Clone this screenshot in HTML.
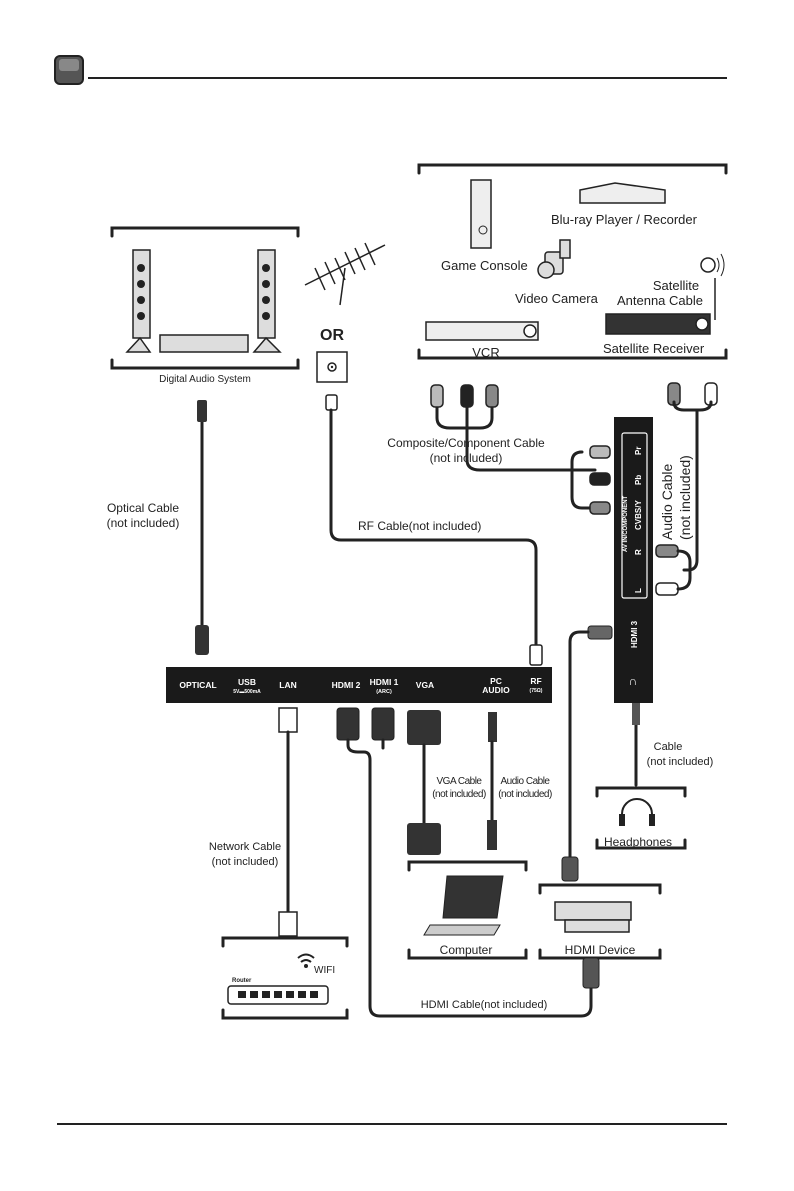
<!DOCTYPE html>
<html><head><meta charset="utf-8"><style>
html,body{margin:0;padding:0;background:#fff}
svg{display:block}
text{font-family:"Liberation Sans",Arial,sans-serif;fill:#222}
.c{fill:none;stroke:#222;stroke-width:3;stroke-linejoin:round;stroke-linecap:round}
.b{fill:none;stroke:#222;stroke-width:3;stroke-linecap:round}
.w text, text.w{fill:#fff;font-weight:bold}
</style></head><body>
<svg width="794" height="1191" viewBox="0 0 794 1191" xmlns="http://www.w3.org/2000/svg">
<!-- header -->
<rect x="55" y="56" width="28" height="28" rx="5" fill="#555" stroke="#222" stroke-width="2"/>
<rect x="59" y="59" width="20" height="12" rx="3" fill="#888"/>
<line x1="88" y1="78" x2="727" y2="78" stroke="#222" stroke-width="2"/>
<line x1="57" y1="1124" x2="727" y2="1124" stroke="#222" stroke-width="2"/>

<!-- bracket boxes -->
<path class="b" d="M112 236 V228 H298 V236 M112 360 V368 H298 V360"/>
<path class="b" d="M419 173 V165 H726 V173 M419 350 V358 H726 V350"/>
<path class="b" d="M597 796 V788 H685 V796 M597 840 V848 H685 V840"/>
<path class="b" d="M409 870 V862 H526 V870 M409 950 V958 H526 V950"/>
<path class="b" d="M540 893 V885 H660 V893 M540 950 V958 H660 V950"/>
<path class="b" d="M223 946 V938 H347 V946 M223 1010 V1018 H347 V1010"/>

<!-- digital audio system -->
<g fill="#ddd" stroke="#222" stroke-width="1.5">
<rect x="133" y="250" width="17" height="88"/><rect x="258" y="250" width="17" height="88"/>
<path d="M127 352 L140 338 L150 352 Z"/><path d="M254 352 L266 338 L280 352 Z"/>
<rect x="160" y="335" width="88" height="17"/>
</g>
<g fill="#222"><circle cx="141" cy="268" r="4"/><circle cx="141" cy="284" r="4"/><circle cx="141" cy="300" r="4"/><circle cx="141" cy="316" r="4"/>
<circle cx="266" cy="268" r="4"/><circle cx="266" cy="284" r="4"/><circle cx="266" cy="300" r="4"/><circle cx="266" cy="316" r="4"/></g>
<text x="205" y="382" font-size="10" text-anchor="middle">Digital Audio System</text>

<!-- antenna -->
<g stroke="#222" stroke-width="1.5">
<line x1="305" y1="285" x2="385" y2="245"/>
<line x1="315" y1="268" x2="325" y2="290"/><line x1="325" y1="262" x2="335" y2="284"/><line x1="335" y1="258" x2="345" y2="280"/><line x1="345" y1="252" x2="355" y2="274"/><line x1="355" y1="248" x2="365" y2="270"/><line x1="365" y1="243" x2="375" y2="265"/>
<line x1="345" y1="268" x2="340" y2="305"/>
</g>
<text x="332" y="340" font-size="16" font-weight="bold" text-anchor="middle">OR</text>
<rect x="317" y="352" width="30" height="30" fill="#fff" stroke="#222" stroke-width="1.5"/>
<circle cx="332" cy="367" r="4" fill="none" stroke="#222" stroke-width="1.5"/><circle cx="332" cy="367" r="1.2" fill="#222"/>

<!-- top right devices -->
<g fill="#eee" stroke="#222" stroke-width="1.5">
<rect x="471" y="180" width="20" height="68"/>
<path d="M580 190 L615 183 L665 190 V203 H580 Z"/>
<rect x="426" y="322" width="112" height="18"/>
<rect x="606" y="314" width="104" height="20" fill="#333"/>
</g>
<circle cx="483" cy="230" r="4" fill="none" stroke="#222"/>
<circle cx="530" cy="331" r="6" fill="#fff" stroke="#222" stroke-width="1.5"/>
<circle cx="702" cy="324" r="6" fill="#fff" stroke="#222" stroke-width="1.5"/>
<g fill="#ddd" stroke="#222" stroke-width="1.5"><rect x="545" y="252" width="18" height="22" rx="3"/><circle cx="546" cy="270" r="8"/><rect x="560" y="240" width="10" height="18"/></g>
<circle cx="708" cy="265" r="7" fill="none" stroke="#222" stroke-width="1.5"/>
<path d="M717 258 q4 7 0 14 M721 254 q6 11 0 22" fill="none" stroke="#222"/>
<path d="M715 320 V278" stroke="#222" stroke-width="1.5"/>
<text x="551" y="224" font-size="13">Blu-ray Player / Recorder</text>
<text x="441" y="270" font-size="13">Game Console</text>
<text x="515" y="303" font-size="13">Video Camera</text>
<text x="676" y="290" font-size="13" text-anchor="middle">Satellite</text>
<text x="660" y="305" font-size="13" text-anchor="middle">Antenna Cable</text>
<text x="603" y="353" font-size="13">Satellite Receiver</text>
<text x="486" y="357" font-size="13" text-anchor="middle">VCR</text>

<!-- composite cables -->
<path class="c" d="M437 405 V418 Q437 428 450 428 H467 M467 405 V460 Q467 470 480 470 H560"/>
<path class="c" d="M492 405 V418 Q492 428 480 428 H467"/>
<path class="c" d="M580 452 H582 Q572 452 572 462 V497 Q572 508 582 508 H590 M560 470 H595"/>
<g stroke="#222" stroke-width="1.5">
<rect x="431" y="385" width="12" height="22" rx="4" fill="#bbb"/>
<rect x="461" y="385" width="12" height="22" rx="4" fill="#222"/>
<rect x="486" y="385" width="12" height="22" rx="4" fill="#888"/>
<rect x="668" y="383" width="12" height="22" rx="4" fill="#888"/>
<rect x="705" y="383" width="12" height="22" rx="4" fill="#fff"/>
<rect x="590" y="446" width="20" height="12" rx="4" fill="#bbb"/>
<rect x="590" y="473" width="20" height="12" rx="4" fill="#222"/>
<rect x="590" y="502" width="20" height="12" rx="4" fill="#888"/>
<rect x="656" y="545" width="22" height="12" rx="4" fill="#888"/>
<rect x="656" y="583" width="22" height="12" rx="4" fill="#fff"/>
</g>
<path class="c" d="M674 405 V402 Q674 410 684 410 H700 Q711 410 711 402 V405 M697 410 V560 Q697 570 688 570 H684 M678 551 Q690 551 690 562 V578 Q690 589 678 589"/>
<text x="466" y="447" font-size="12" text-anchor="middle">Composite/Component Cable</text>
<text x="466" y="462" font-size="12" text-anchor="middle">(not included)</text>
<text transform="translate(672,540) rotate(-90)" font-size="14">Audio Cable</text>
<text transform="translate(690,540) rotate(-90)" font-size="14">(not included)</text>

<!-- side panel -->
<rect x="614" y="417" width="39" height="286" fill="#1a1a1a"/>
<rect x="622" y="433" width="25" height="165" rx="2" fill="none" stroke="#fff" stroke-width="1.2"/>
<g class="w" font-size="8">
<text transform="translate(641,455) rotate(-90)">Pr</text>
<text transform="translate(641,485) rotate(-90)">Pb</text>
<text transform="translate(641,530) rotate(-90)">CVBS/Y</text>
<text transform="translate(641,555) rotate(-90)">R</text>
<text transform="translate(641,593) rotate(-90)">L</text>
<text transform="translate(627,552) rotate(-90)" font-size="6">AV IN/COMPONENT</text>
<text transform="translate(637,648) rotate(-90)">HDMI 3</text>
<text x="633" y="685" font-size="12" text-anchor="middle">∩</text>
</g>

<!-- HDMI3 cable -->
<rect x="588" y="626" width="24" height="13" rx="3" fill="#666" stroke="#222"/>
<path class="c" d="M588 632 H580 Q570 632 570 642 V858"/>
<rect x="562" y="857" width="16" height="24" rx="3" fill="#555" stroke="#222"/>

<!-- headphones -->
<path class="c" d="M636 710 V785"/>
<rect x="632" y="703" width="8" height="22" fill="#555"/>
<text x="668" y="750" font-size="11" text-anchor="middle">Cable</text>
<text x="680" y="765" font-size="11" text-anchor="middle">(not included)</text>
<path d="M622 822 V814 a15 15 0 0 1 30 0 V822" fill="none" stroke="#222" stroke-width="2"/>
<rect x="619" y="814" width="6" height="12" fill="#222"/><rect x="649" y="814" width="6" height="12" fill="#222"/>
<text x="638" y="846" font-size="12" text-anchor="middle">Headphones</text>

<!-- bottom panel -->
<rect x="166" y="667" width="386" height="36" fill="#1a1a1a"/>
<g class="w" font-size="8.5" text-anchor="middle">
<text x="198" y="688">OPTICAL</text>
<text x="247" y="685">USB</text><text x="247" y="693" font-size="5">5V▬500mA</text>
<text x="288" y="688">LAN</text>
<text x="346" y="688">HDMI 2</text>
<text x="384" y="685">HDMI 1</text><text x="384" y="693" font-size="5.5">(ARC)</text>
<text x="425" y="688">VGA</text>
<text x="496" y="684">PC</text><text x="496" y="693">AUDIO</text>
<text x="536" y="684">RF</text><text x="536" y="692" font-size="5">(75Ω)</text>
</g>

<!-- optical -->
<path class="c" d="M202 420 V640"/>
<rect x="197" y="400" width="10" height="22" rx="2" fill="#333"/>
<rect x="195" y="625" width="14" height="30" rx="3" fill="#333"/>
<text x="143" y="512" font-size="12" text-anchor="middle">Optical Cable</text>
<text x="143" y="527" font-size="12" text-anchor="middle">(not included)</text>

<!-- RF -->
<rect x="326" y="395" width="11" height="15" rx="2" fill="#fff" stroke="#222" stroke-width="1.5"/>
<path class="c" d="M331 410 V530 Q331 540 341 540 H526 Q536 540 536 550 V650"/>
<rect x="530" y="645" width="12" height="20" rx="2" fill="#fff" stroke="#222" stroke-width="1.5"/>
<text x="358" y="530" font-size="12">RF Cable(not included)</text>

<!-- LAN -->
<rect x="279" y="708" width="18" height="24" fill="#fff" stroke="#222" stroke-width="1.5"/>
<path class="c" d="M288 732 V912"/>
<rect x="279" y="912" width="18" height="24" fill="#fff" stroke="#222" stroke-width="1.5"/>
<text x="245" y="850" font-size="11" text-anchor="middle">Network Cable</text>
<text x="245" y="865" font-size="11" text-anchor="middle">(not included)</text>
<!-- router -->
<rect x="228" y="986" width="100" height="18" rx="3" fill="#fff" stroke="#222" stroke-width="1.5"/>
<g fill="#222"><rect x="238" y="991" width="8" height="7"/><rect x="250" y="991" width="8" height="7"/><rect x="262" y="991" width="8" height="7"/><rect x="274" y="991" width="8" height="7"/><rect x="286" y="991" width="8" height="7"/><rect x="298" y="991" width="8" height="7"/><rect x="310" y="991" width="8" height="7"/></g>
<text x="232" y="982" font-size="6" font-weight="bold">Router</text>
<path d="M298 958 q8 -7 16 0 M301 962 q5 -4 10 0" fill="none" stroke="#222" stroke-width="2"/><circle cx="306" cy="966" r="2" fill="#222"/>
<text x="314" y="973" font-size="10">WIFI</text>

<!-- HDMI 2 / 1 -->
<rect x="337" y="708" width="22" height="32" rx="3" fill="#333" stroke="#222"/>
<rect x="372" y="708" width="22" height="32" rx="3" fill="#333" stroke="#222"/>
<path class="c" d="M348 740 V745 Q348 752 358 752 H364 Q370 752 370 760 V1006 Q370 1016 380 1016 H581 Q591 1016 591 1006 V985"/>
<path class="c" d="M383 740 V748"/>
<rect x="583" y="958" width="16" height="30" rx="3" fill="#555" stroke="#222"/>
<text x="484" y="1008" font-size="11" text-anchor="middle">HDMI Cable(not included)</text>

<!-- VGA -->
<rect x="407" y="710" width="34" height="35" rx="3" fill="#333"/>
<path class="c" d="M424 745 V825"/>
<rect x="407" y="823" width="34" height="32" rx="3" fill="#333"/>
<rect x="488" y="712" width="9" height="30" fill="#333"/>
<path class="c" d="M492 742 V822"/>
<rect x="487" y="820" width="10" height="30" fill="#333"/>
<text x="459" y="784" font-size="10" text-anchor="middle" letter-spacing="-0.5">VGA Cable</text>
<text x="459" y="797" font-size="10" text-anchor="middle" letter-spacing="-0.5">(not included)</text>
<text x="525" y="784" font-size="10" text-anchor="middle" letter-spacing="-0.5">Audio Cable</text>
<text x="525" y="797" font-size="10" text-anchor="middle" letter-spacing="-0.5">(not included)</text>

<!-- computer -->
<path d="M447 876 H503 L497 918 H443 Z" fill="#333" stroke="#222"/>
<path d="M430 925 H500 L494 935 H424 Z" fill="#ccc" stroke="#222"/>
<text x="466" y="954" font-size="12" text-anchor="middle">Computer</text>

<!-- HDMI device -->
<g fill="#ddd" stroke="#222" stroke-width="1.5">
<rect x="555" y="902" width="76" height="18"/><rect x="565" y="920" width="64" height="12"/></g>
<text x="600" y="954" font-size="12" text-anchor="middle">HDMI Device</text>
</svg>
</body></html>
